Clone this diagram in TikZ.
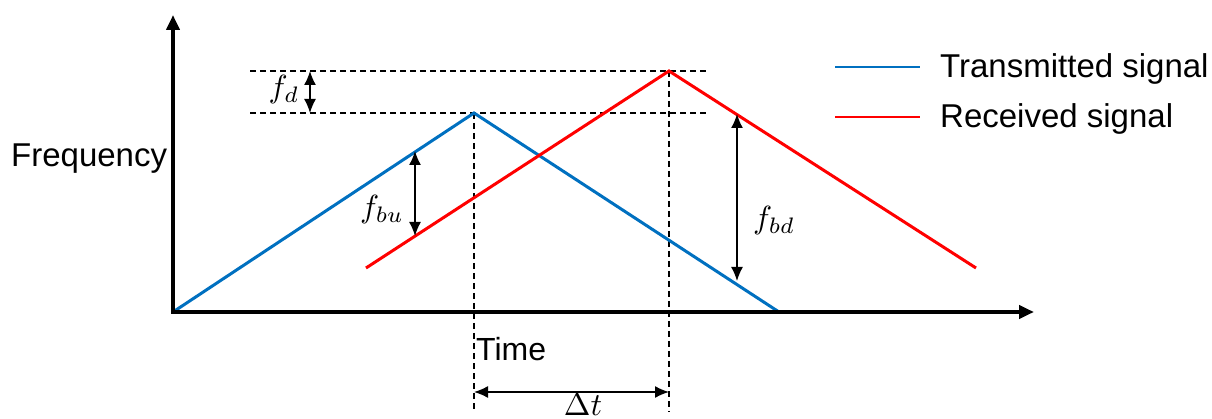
\documentclass[tikz,border=0pt]{standalone}
\usepackage{graphicx}
\usepackage{fontspec}
\setmainfont{Liberation Sans}
\usetikzlibrary{arrows.meta}
\definecolor{txblue}{RGB}{0,112,192}
\definecolor{rxred}{RGB}{255,0,0}
\newcommand{\bigmath}[1]{\scalebox{3.2}{$#1$}}
\begin{document}
\begin{tikzpicture}[x=1pt,y=-1pt,
  axis/.style={line width=4pt,-{Triangle[length=15pt,width=13pt]}},
  txline/.style={draw=txblue,line width=3pt},
  rxline/.style={draw=rxred,line width=3pt},
  guide/.style={line width=1.3pt,dash pattern=on 6pt off 4pt},
  dimarrow/.style={line width=1.5pt,{Latex[length=14pt,width=12pt]}-{Latex[length=14pt,width=12pt]}},
  lbl/.style={font=\fontsize{33}{38}\selectfont,inner sep=0pt},
  mlbl/.style={font=\fontsize{10}{12}\selectfont,inner sep=0pt}]
\useasboundingbox (0,0) rectangle (1212,419);
% coordinates
\coordinate (O) at (173,312);
\coordinate (ytip) at (173,15);
\coordinate (xtip) at (1034,312);
\coordinate (t0) at (173,312);
\coordinate (tpk) at (474,113);
\coordinate (t1) at (779,312);
\coordinate (r0) at (366,268);
\coordinate (rpk) at (669,71);
\coordinate (r1) at (976,268);
\coordinate (h1a) at (250,71);
\coordinate (h1b) at (708,71);
\coordinate (h2a) at (250,113);
\coordinate (h2b) at (708,113);
\coordinate (v1b) at (474,412);
\coordinate (v2b) at (669,412);
\coordinate (fdT) at (310,71);
\coordinate (fdB) at (310,113);
\coordinate (fbuT) at (415,151);
\coordinate (fbuB) at (415,236);
\coordinate (fbdT) at (737,114);
\coordinate (fbdB) at (737,281);
\coordinate (dtL) at (474,392);
\coordinate (dtR) at (669,392);
\coordinate (lg1a) at (835,67);
\coordinate (lg1b) at (920,67);
\coordinate (lg2a) at (835,117);
\coordinate (lg2b) at (920,117);
% guides
\draw[guide] (h1a) -- (h1b);
\draw[guide] (h2a) -- (h2b);
\draw[guide] (tpk) -- (v1b);
\draw[guide] (rpk) -- (v2b);
% signals
\draw[txline,line join=miter] (t0) -- (tpk) -- (t1);
\draw[rxline,line join=miter] (r0) -- (rpk) -- (r1);
% axes
\draw[axis] (O) -- (ytip);
\draw[axis] ([xshift=-2pt]O) -- (xtip);
% dimension arrows
\draw[dimarrow] (fdT) -- (fdB);
\draw[dimarrow] (fbuT) -- (fbuB);
\draw[dimarrow] (fbdT) -- (fbdB);
\draw[dimarrow] (dtL) -- (dtR);
% labels
\node[lbl,anchor=base west] (freq) at (11,167) {Frequency};
\node[lbl,anchor=base west,font=\fontsize{32}{36}\selectfont] (time) at (476,360) {Time};
\node[mlbl] (fd) at (284,90) {\bigmath{f_d}};
\node[mlbl] (fbu) at (382,210) {\bigmath{f_{bu}}};
\node[mlbl] (fbd) at (774,221) {\bigmath{f_{bd}}};
\node[mlbl,anchor=base] (dt) at (583,415) {\bigmath{\Delta t}};
% legend
\draw[txline,line width=2.6pt] (lg1a) -- (lg1b);
\draw[rxline,line width=2.6pt] (lg2a) -- (lg2b);
\node[lbl,anchor=base west] (lgt) at (940,78) {Transmitted signal};
\node[lbl,anchor=base west] (lgr) at (940,128) {Received signal};
\end{tikzpicture}
\end{document}
